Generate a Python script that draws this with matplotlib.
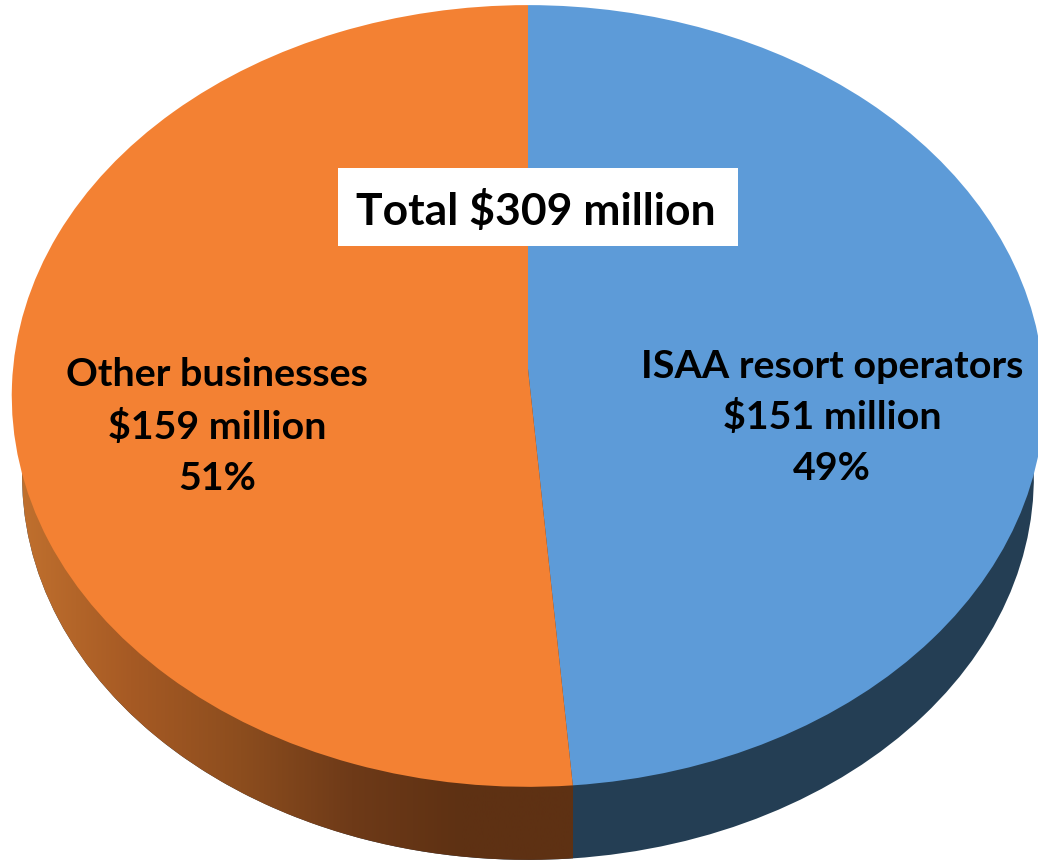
# plotty stuff
import numpy as np
import matplotlib
matplotlib.use("Agg")
import matplotlib.pyplot as plt
import matplotlib.patches as mpatches
import matplotlib.transforms as mtransforms
from matplotlib.colors import LinearSegmentedColormap

# data
SEGMENTS = ["ISAA resort operators", "Other businesses"]
AMOUNTS = [151, 159]
AMOUNT_LABELS = ["$151 million", "$159 million"]
SHARE_LABELS = ["49%", "51%"]
TOTAL_LABEL = "Total $309 million"

# colours
TOP_COLORS = ["#5D9BD8", "#F38133"]
WALL_COLOR = "#243E54"
WALL_SHADE = ["#C0702E", "#A65A24", "#8C4D1E", "#6E3A18", "#5E3113", "#5E3113"]

# geometry of the tilted disc, in pixels
CX, CY = 528, 370
RX, RY = 515, 389
TILT = 0.069
WALL_DROP = 82
WALL_SCALE = 0.98


class TiltedDisc(mtransforms.Transform):
    # projects the flat unit pie onto the tilted disc
    input_dims = 2
    output_dims = 2
    has_inverse = False

    def __init__(self, drop=0):
        super().__init__()
        self.drop = drop

    def transform_non_affine(self, values):
        u, v = values[:, 0], values[:, 1]
        w = 1 + TILT * v
        return np.column_stack([CX + RX * u / w, CY + self.drop - RY * v / w])


fig = plt.figure(figsize=(10.38, 8.62), dpi=100)
ax = fig.add_axes([0, 0, 1, 1])


def draw_pie(colors, radius, drop, zorder):
    wedges, _ = ax.pie(AMOUNTS, colors=colors, startangle=90, counterclock=False,
                       radius=radius, center=(0, 0))
    for w in wedges:
        w.set_transform(TiltedDisc(drop) + ax.transData)
        w.set_zorder(zorder)
        w.set_linewidth(0)
    return wedges


# side wall first, top face over it
draw_pie([WALL_COLOR, WALL_COLOR], WALL_SCALE, WALL_DROP, 1)
top = draw_pie(TOP_COLORS, 1, 0, 3)

# the slice edge on the rim, the wall changes colour straight below it
theta = np.radians(top[0].theta1)
rim_x = TiltedDisc().transform_non_affine(np.array([[np.cos(theta), np.sin(theta)]]))[0, 0]

# orange wall gets darker towards the front
shade = LinearSegmentedColormap.from_list("wall", WALL_SHADE)
im = ax.imshow(np.linspace(0, 1, 256).reshape(1, -1), cmap=shade, aspect="auto",
               extent=(20, rim_x, 862, 400), zorder=2)
outline = mpatches.Circle((0, 0), WALL_SCALE, transform=TiltedDisc(WALL_DROP) + ax.transData)
im.set_clip_path(outline)

# total box
ax.add_patch(mpatches.Rectangle((338, 169), 400, 78, facecolor="white",
                                edgecolor="none", zorder=4))
ax.text(536, 211, TOTAL_LABEL, ha="center", va="center", fontsize=32,
        fontfamily="Lato", fontweight="bold", color="black", zorder=5)

# slice labels
LABEL_X = [832, 217]
LABEL_Y = [[367, 417, 469], [375, 427, 479]]
for i in range(len(SEGMENTS)):
    lines = [SEGMENTS[i], AMOUNT_LABELS[i], SHARE_LABELS[i]]
    for y, line in zip(LABEL_Y[i], lines):
        ax.text(LABEL_X[i], y, line, ha="center", va="center", fontsize=28.4,
                fontfamily="Lato", fontweight="bold", color="black", zorder=5)

ax.set_aspect("auto")
ax.set_xlim(0, 1038)
ax.set_ylim(862, 0)
ax.axis("off")

fig.savefig("out.png", dpi=100)
